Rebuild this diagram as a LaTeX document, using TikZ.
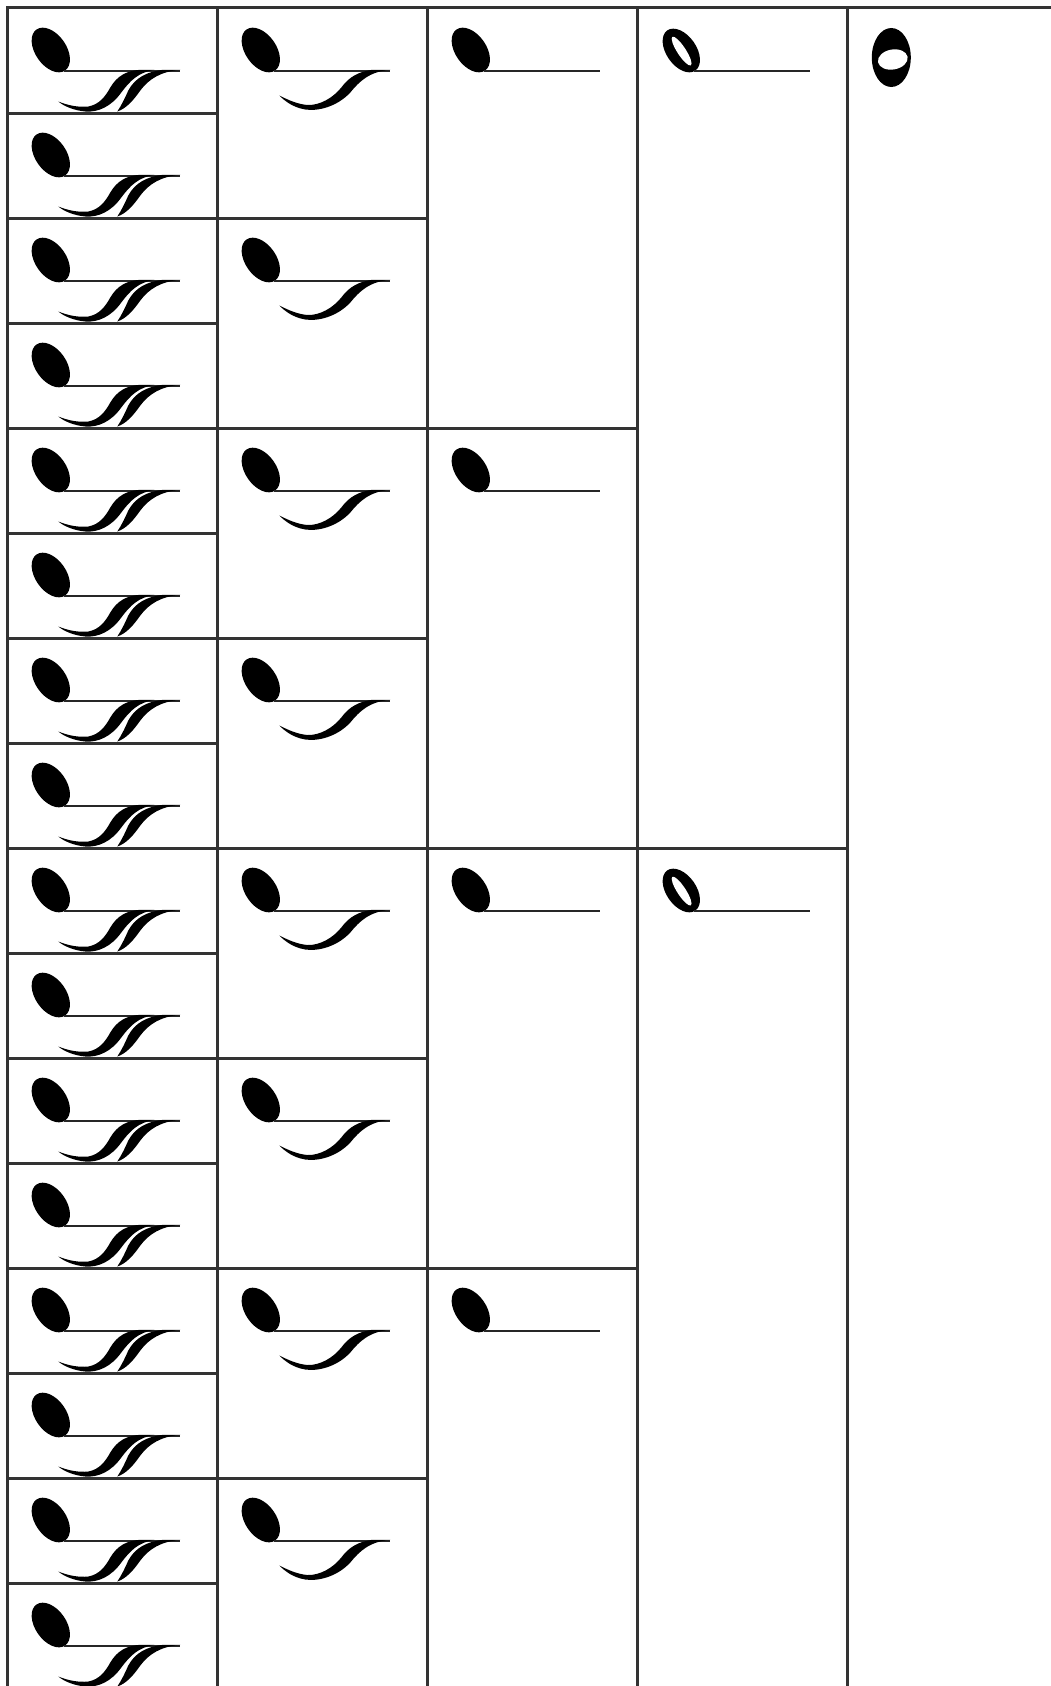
\documentclass[tikz,border=0pt]{standalone}
\usepackage{tikz}
\tikzset{
  gridline/.style={line width=3pt, draw=black!80, line cap=rect},
  stemline/.style={line width=1.9pt, draw=black!85},
  notehead/.pic={\fill[shift={(43.5,42.5)},rotate=-55] (0,0) ellipse[x radius=25pt,y radius=15.5pt];},
  hollowhead/.pic={
    \fill[shift={(44,43)},rotate=-55] (0,0) ellipse[x radius=24.5pt,y radius=15pt];
    \fill[white,shift={(44.3,43.6)},rotate=-57] (0,0) ellipse[x radius=17pt,y radius=4.3pt];},
  notestem/.pic={\draw[stemline] (57,63.3) -- (173,63.3);},
  quarter/.pic={\pic {notehead}; \pic {notestem};},
  halfnote/.pic={\pic {hollowhead}; \pic {notestem};},
  eighth/.pic={\pic {notehead}; \pic {notestem};
    \fill (173,62.3) .. controls (152,64) and (142,74) .. (133,85)
      .. controls (120,99) and (101,104) .. (88,102)
      .. controls (76,100) and (68,94) .. (62,88)
      .. controls (72,93) and (80,96.5) .. (90,97.5)
      .. controls (103,98) and (116,90) .. (124,80)
      .. controls (132,69) and (142,64) .. (155,62.3) -- cycle;},
  sixteenth/.pic={\pic {notehead}; \pic {notestem};
    \fill (173,62.3) .. controls (154,64) and (142,71) .. (133,83)
      .. controls (126,93) and (119,101) .. (110,104)
      .. controls (114,98) and (117,92) .. (121,83)
      .. controls (128,70) and (140,64) .. (156,62.3) -- cycle;
    \fill (147,62.3) .. controls (131,65) and (123,73) .. (114,85)
      .. controls (104,99) and (91,105) .. (78,104)
      .. controls (67,103) and (57,99) .. (51,94)
      .. controls (61,98) and (71,100) .. (81,99)
      .. controls (92,97) and (98,89) .. (103,80)
      .. controls (110,68) and (120,63) .. (133,62.3) -- cycle;},
  wholenote/.pic={
    \fill (44,50) ellipse[x radius=19.5pt,y radius=29.5pt];
    \fill[white,shift={(45.5,52)},rotate=10] (0,0) ellipse[x radius=15pt,y radius=10pt];}
}
\begin{document}
\begin{tikzpicture}[x=1pt,y=-1pt]
\fill[white] (0,0) rectangle (1051,1686);
\useasboundingbox (0,0) rectangle (1051,1686);
% grid
\draw[gridline] (7.3,7.5) -- (1051,7.5);
\foreach \c in {0,...,4} \draw[gridline] ({7.3+210*\c},7.5) -- ({7.3+210*\c},1690);
\foreach \j in {1,3,...,15} \draw[gridline] (7.3,{8+105*\j}) -- (217.3,{8+105*\j});
\foreach \j in {2,6,10,14} \draw[gridline] (7.3,{8+105*\j}) -- (427.3,{8+105*\j});
\foreach \j in {4,12} \draw[gridline] (7.3,{8+105*\j}) -- (637.3,{8+105*\j});
\draw[gridline] (7.3,848) -- (847.3,848);
% notes
\foreach \j in {0,...,15} \pic at (7.3,{7.5+105*\j}) {sixteenth};
\foreach \j in {0,2,...,14} \pic at (217.3,{7.5+105*\j}) {eighth};
\foreach \j in {0,4,8,12} \pic at (427.3,{7.5+105*\j}) {quarter};
\foreach \j in {0,8} \pic at (637.3,{7.5+105*\j}) {halfnote};
\pic at (847.3,7.5) {wholenote};
\end{tikzpicture}
\end{document}
